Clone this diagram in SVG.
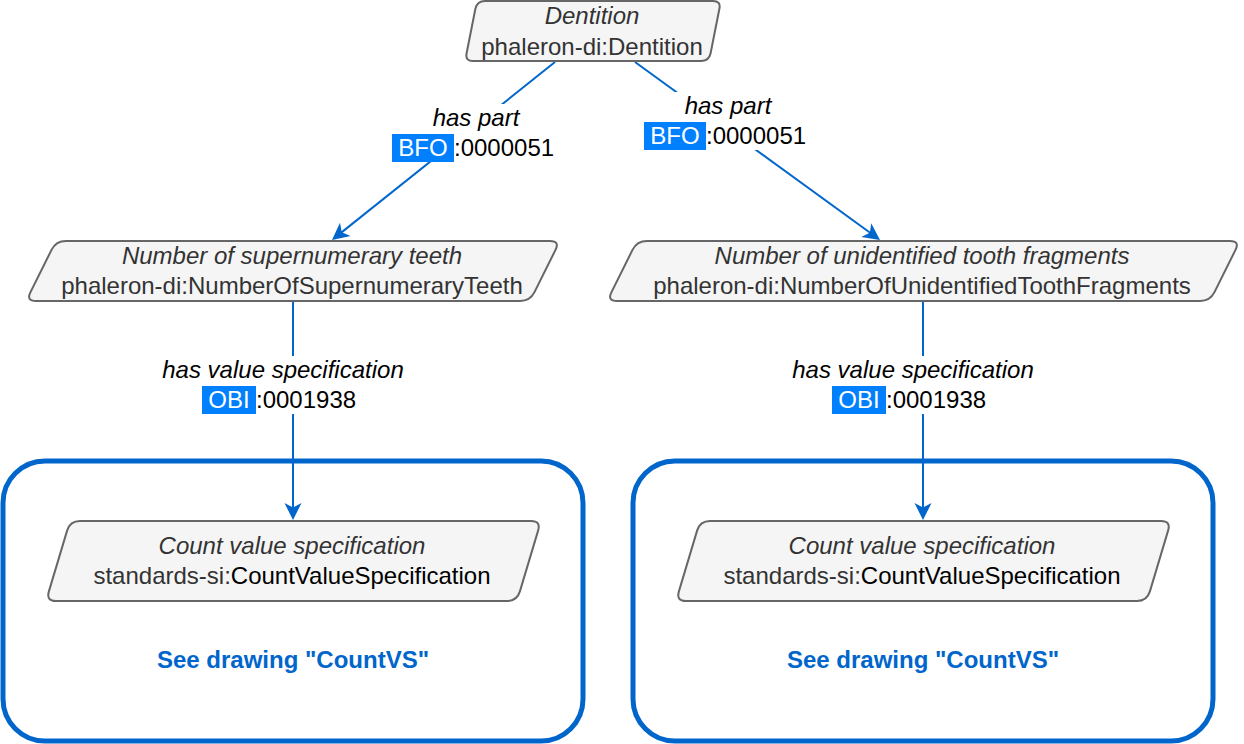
<svg xmlns="http://www.w3.org/2000/svg" width="1244" height="744" viewBox="0 0 1244 744">
  <style>
    .node { fill: #f5f5f5; stroke: #666666; stroke-width: 2; }
    .t { font-family: "Liberation Sans", Arial, sans-serif; font-size: 24px; }
    .title { font-style: italic; fill: #333333; text-anchor: middle; }
    .iri { fill: #333333; text-anchor: middle; }
    .blk { fill: #000000; }
    .box { fill: #ffffff; stroke: #0066CC; stroke-width: 5; }
    .see { font-weight: bold; fill: #0066CC; text-anchor: middle; }
    .edge { stroke: #0066CC; stroke-width: 2; fill: none; }
    .lbl { fill: #000000; }
    .lbl-i { font-style: italic; text-anchor: middle; fill: #000000; }
    .hl { fill: #007FFF; }
    .hlt { fill: #ffffff; text-anchor: middle; }
    .lbg { fill: #ffffff; }
  </style>
  <defs>
    <marker id="arr" markerUnits="userSpaceOnUse" markerWidth="20" markerHeight="20" refX="13" refY="10" orient="auto">
      <path d="M18,10 L1,1.5 L5.5,10 L1,18.5 Z" fill="#0066CC"/>
    </marker>
  </defs>

  <g id="container-left">
    <rect class="box" x="3" y="461" width="580" height="280" rx="42" ry="42"/>
    <text class="t see" x="293" y="668">See drawing "CountVS"</text>
  </g>
  <g id="container-right">
    <rect class="box" x="633" y="461" width="580" height="280" rx="42" ry="42"/>
    <text class="t see" x="923" y="668">See drawing "CountVS"</text>
  </g>

  <g id="connectors">
    <line class="edge" x1="555" y1="62" x2="335.9" y2="236.9" marker-end="url(#arr)"/>
    <line class="edge" x1="635" y1="62" x2="875.95" y2="237.06" marker-end="url(#arr)"/>
    <line class="edge" x1="293" y1="301" x2="293" y2="515" marker-end="url(#arr)"/>
    <line class="edge" x1="923" y1="301" x2="923" y2="515" marker-end="url(#arr)"/>

    <g id="label-haspart-left">
      <rect class="lbg" x="390" y="104" width="167" height="57"/>
      <text class="t lbl-i" x="476" y="126">has part</text>
      <rect class="hl" x="392" y="134" width="62" height="28"/>
      <text class="t hlt" x="423" y="156">BFO</text>
      <text class="t lbl" x="454" y="156">:0000051</text>
    </g>
    <g id="label-haspart-right">
      <rect class="lbg" x="642" y="92" width="168" height="58"/>
      <text class="t lbl-i" x="728" y="114">has part</text>
      <rect class="hl" x="644" y="122" width="62" height="28"/>
      <text class="t hlt" x="675" y="144">BFO</text>
      <text class="t lbl" x="706" y="144">:0000051</text>
    </g>
    <g id="label-hvs-left">
      <rect class="lbg" x="160" y="356" width="246" height="58"/>
      <text class="t lbl-i" x="283" y="378">has value specification</text>
      <rect class="hl" x="202" y="386" width="54" height="28"/>
      <text class="t hlt" x="229" y="408">OBI</text>
      <text class="t lbl" x="256" y="408">:0001938</text>
    </g>
    <g id="label-hvs-right">
      <rect class="lbg" x="790" y="356" width="246" height="58"/>
      <text class="t lbl-i" x="913" y="378">has value specification</text>
      <rect class="hl" x="832" y="386" width="54" height="28"/>
      <text class="t hlt" x="859" y="408">OBI</text>
      <text class="t lbl" x="886" y="408">:0001938</text>
    </g>
  </g>

  <g id="node-dentition">
    <path class="node" d="M466.6,53.2 L475.4,8.8 Q477,1 485,1 L713,1 Q721,1 719.4,8.8 L710.6,53.2 Q709,61 701,61 L473,61 Q465,61 466.6,53.2 Z"/>
    <text class="t title" x="592" y="24">Dentition</text>
    <text class="t iri" x="592" y="55">phaleron-di:Dentition</text>
  </g>

  <g id="node-supernumerary">
    <path class="node" d="M30.5,292.1 L51.5,249.9 Q56,241 66,241 L550,241 Q560,241 555.5,249.9 L534.5,292.1 Q530,301 520,301 L36,301 Q26,301 30.5,292.1 Z"/>
    <text class="t title" x="292" y="264">Number of supernumerary teeth</text>
    <text class="t iri" x="292" y="294">phaleron-di:NumberOfSupernumeraryTeeth</text>
  </g>

  <g id="node-unidentified">
    <path class="node" d="M611.5,292.1 L632.5,249.9 Q637,241 647,241 L1230,241 Q1240,241 1235.5,249.9 L1214.5,292.1 Q1210,301 1200,301 L617,301 Q607,301 611.5,292.1 Z"/>
    <text class="t title" x="922" y="264">Number of unidentified tooth fragments</text>
    <text class="t iri" x="922" y="294">phaleron-di:NumberOfUnidentifiedToothFragments</text>
  </g>

  <g id="node-count-left">
    <path class="node" d="M48.9,591.4 L67.1,530.6 Q70,521 80,521 L531,521 Q541,521 538.1,530.6 L519.9,591.4 Q517,601 507,601 L56,601 Q46,601 48.9,591.4 Z"/>
    <text class="t title" x="292" y="554">Count value specification</text>
    <text class="t iri" x="292" y="584">standards-si:<tspan class="blk">CountValueSpecification</tspan></text>
  </g>

  <g id="node-count-right">
    <path class="node" d="M678.9,591.4 L697.1,530.6 Q700,521 710,521 L1161,521 Q1171,521 1168.1,530.6 L1149.9,591.4 Q1147,601 1137,601 L686,601 Q676,601 678.9,591.4 Z"/>
    <text class="t title" x="922" y="554">Count value specification</text>
    <text class="t iri" x="922" y="584">standards-si:<tspan class="blk">CountValueSpecification</tspan></text>
  </g>
</svg>
